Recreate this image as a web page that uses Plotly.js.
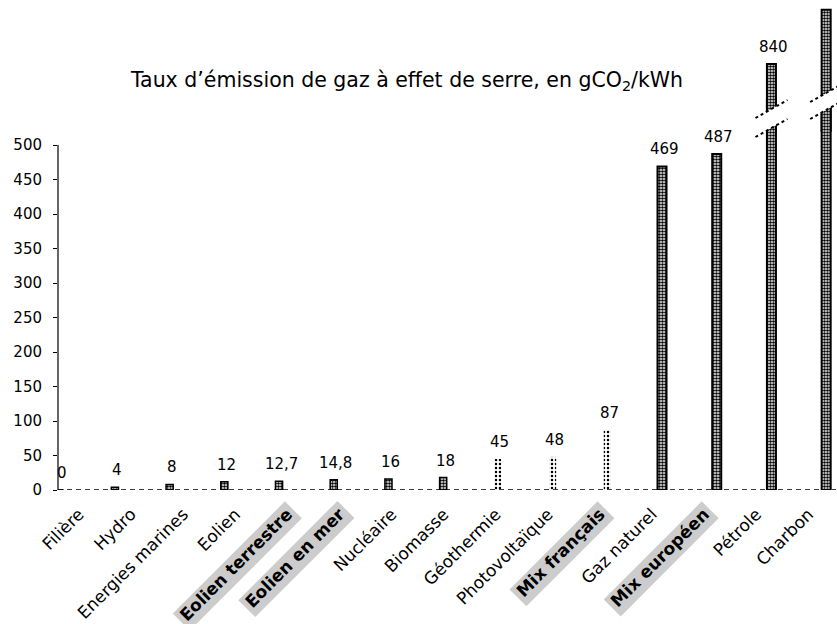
<!DOCTYPE html>
<html><head><meta charset="utf-8">
<script src="https://cdn.plot.ly/plotly-3.0.1.min.js"></script>
<style>html,body{margin:0;padding:0;background:#fff;}#chart{width:837px;height:624px;}</style>
</head><body><div id="chart"></div>
<script>
// ---- data ----
const categories = ['Filière','Hydro','Energies marines','Eolien','Eolien terrestre','Eolien en mer','Nucléaire','Biomasse','Géothermie','Photovoltaïque','Mix français','Gaz naturel','Mix européen','Pétrole','Charbon'];
const emissions = [0, 4, 8, 12, 12.7, 14.8, 16, 18, 45, 48, 87, 469, 487, 840, 1060];
const valueLabels = ['0','4','8','12','12,7','14,8','16','18','45','48','87','469','487','840',''];
const yTickValues = [0, 50, 100, 150, 200, 250, 300, 350, 400, 450, 500];
const highlighted = ['Eolien terrestre','Eolien en mer','Mix français','Mix européen'];
const lightBars = ['Géothermie','Photovoltaïque','Mix français'];
const brokenBars = ['Pétrole','Charbon'];

// ---- layout geometry ----
const W = 837, H = 624;
const M = {l: 58, r: 1, t: 2, b: 134};
const plotW = W - M.l - M.r, plotH = H - M.t - M.b;
const FONT = 'DejaVu Sans, sans-serif';
const xRange = [-0.04, 14.18];
const pxPerCat = plotW / (xRange[1] - xRange[0]);
const labelStep = 52.1, labelFirstPx = 79;              // label axis spacing (labels are a bit tighter than bars)
const labelRange = [-(labelFirstPx - M.l) / labelStep, -(labelFirstPx - M.l) / labelStep + plotW / labelStep];
const toPaperX = px => (px - M.l) / plotW;
const toPaperY = py => (H - M.b - py) / plotH;
const catPx = i => M.l + (i - xRange[0]) * pxPerCat;

const lowerTopPx = 98, upperBottomPx = 132;
const lowerScale = 0.69;   // px per gCO2/kWh on the lower axis
const lowerRange = [0, (H - M.b - lowerTopPx) / lowerScale];
const upperRange = [563, 1092];

// ---- traces ----
const idx = categories.map((c, i) => i);
const darkIdx = idx.filter(i => !lightBars.includes(categories[i]));
const lightIdx = idx.filter(i => lightBars.includes(categories[i]));
const brokenIdx = idx.filter(i => brokenBars.includes(categories[i]));
const barWidth = i => (emissions[i] > 100 ? 0.165 : 0.13);

const darkMarker = ids => ({
  color: '#fff',
  line: {color: '#000', width: ids.map(i => emissions[i] > 100 ? 2 : 1.5)},
  pattern: {shape: '.', fgcolor: '#000', bgcolor: '#fff', size: 3, solidity: 0.6, fillmode: 'replace'}
});

const traces = [
  {type: 'bar', x: darkIdx.map(i => categories[i]), y: darkIdx.map(i => emissions[i]),
   width: darkIdx.map(barWidth), marker: darkMarker(darkIdx), xaxis: 'x', yaxis: 'y', hoverinfo: 'skip'},
  {type: 'bar', x: lightIdx.map(i => categories[i]), y: lightIdx.map(i => emissions[i]),
   width: lightIdx.map(barWidth),
   marker: {color: 'rgba(0,0,0,0)', line: {width: 0},
            pattern: {shape: '.', fgcolor: '#000', bgcolor: 'rgba(0,0,0,0)', size: 4, solidity: 0.3, fillmode: 'replace'}},
   xaxis: 'x', yaxis: 'y', hoverinfo: 'skip'},
  {type: 'bar', x: brokenIdx.map(i => categories[i]), y: brokenIdx.map(i => emissions[i]),
   width: brokenIdx.map(barWidth), marker: darkMarker(brokenIdx), xaxis: 'x', yaxis: 'y2', hoverinfo: 'skip'},
  // invisible carrier for the category label axis
  {type: 'scatter', mode: 'markers', x: categories, y: categories.map(() => 0), marker: {opacity: 0, size: 1},
   xaxis: 'x2', yaxis: 'y', hoverinfo: 'skip'}
];

// ---- value labels ----
const annotations = idx.filter(i => valueLabels[i] !== '').map(i => ({
  x: categories[i], y: emissions[i],
  xref: 'x', yref: brokenBars.includes(categories[i]) ? 'y2' : 'y',
  text: valueLabels[i], showarrow: false, yanchor: 'bottom', yshift: 6, xshift: 2,
  font: {family: FONT, size: 15, color: '#000'}
}));

// ---- decorations: axis line, baseline, break marks ----
const shapes = [
  {type: 'line', xref: 'paper', yref: 'y', x0: 0, x1: 0, y0: 0, y1: 500, line: {color: '#000', width: 1.2}},
  {type: 'line', xref: 'paper', yref: 'y', x0: 0, x1: 1, y0: 0, y1: 0, line: {color: '#000', width: 1.5, dash: '5px,4px'}}
];
const breakCenters = {'Pétrole': [109, 128], 'Charbon': [93, 110]};
brokenIdx.forEach(i => {
  const xc = catPx(i);
  const [yU, yL] = breakCenters[categories[i]];
  const hw = 16, dy = 9;
  const P = (x, y) => toPaperX(x) + ',' + toPaperY(y);
  shapes.push({type: 'path', xref: 'paper', yref: 'paper', layer: 'above',
    path: 'M' + P(xc - hw, yU + dy) + 'L' + P(xc + hw, yU - dy) + 'L' + P(xc + hw, yL - dy) + 'L' + P(xc - hw, yL + dy) + 'Z',
    fillcolor: '#fff', line: {width: 0}});
  [yU, yL].forEach(yc => shapes.push({type: 'line', xref: 'paper', yref: 'paper', layer: 'above',
    x0: toPaperX(xc - hw), y0: toPaperY(yc + dy), x1: toPaperX(xc + hw), y1: toPaperY(yc - dy),
    line: {color: '#000', width: 2, dash: 'dot'}}));
});

const layout = {
  width: W, height: H, margin: M,
  paper_bgcolor: '#fff', plot_bgcolor: 'rgba(0,0,0,0)',
  showlegend: false, barmode: 'overlay',
  font: {family: FONT, color: '#000'},
  title: {text: 'Taux d’émission de gaz à effet de serre, en gCO<sub>2</sub>/kWh',
          x: 407 / W, xanchor: 'center', y: 1 - 80 / H, yanchor: 'middle', yref: 'container',
          font: {family: FONT, size: 20.5, color: '#000'}},
  xaxis: {type: 'category', categoryorder: 'array', categoryarray: categories,
          range: xRange, showticklabels: false, ticks: '', showgrid: false, zeroline: false, showline: false},
  xaxis2: {type: 'category', categoryorder: 'array', categoryarray: categories, overlaying: 'x', anchor: 'y', side: 'bottom',
           range: labelRange, tickangle: -45, ticks: '', ticklabelstandoff: 10,
           showgrid: false, zeroline: false, showline: false,
           tickvals: categories, ticktext: categories.map(c => highlighted.includes(c) ? '<b>' + c + '</b>' : c),
           tickfont: {family: FONT, size: 17, color: '#000'}},
  yaxis: {domain: [0, toPaperY(lowerTopPx)], range: lowerRange, tickvals: yTickValues, ticks: 'outside', ticklen: 4,
          tickcolor: '#000', ticklabelstandoff: 8, showgrid: false, zeroline: false, showline: false,
          tickfont: {family: FONT, size: 15, color: '#000'}},
  yaxis2: {domain: [toPaperY(upperBottomPx), 1], range: upperRange, anchor: 'x', showticklabels: false, ticks: '',
           showgrid: false, zeroline: false, showline: false},
  annotations: annotations,
  shapes: shapes
};

const gd = document.getElementById('chart');
Plotly.newPlot(gd, traces, layout, {staticPlot: true, displayModeBar: false}).then(() => {
  const extra = [];
  gd.querySelectorAll('.x2tick text, .xtick text').forEach(t => {
    const name = t.textContent;
    if (!highlighted.includes(name)) return;
    const bb = t.getBBox();
    if (!bb.width) return;
    const m = t.getCTM();
    const svg = t.ownerSVGElement;
    const pad = 4;
    const corners = [[bb.x - pad, bb.y], [bb.x + bb.width + pad, bb.y], [bb.x + bb.width + pad, bb.y + bb.height + pad], [bb.x - pad, bb.y + bb.height + pad]]
      .map(([x, y]) => { const p = svg.createSVGPoint(); p.x = x; p.y = y; const q = p.matrixTransform(m); return [q.x, q.y]; });
    extra.push({type: 'path', xref: 'paper', yref: 'paper', layer: 'below',
      path: 'M' + corners.map(c => toPaperX(c[0]) + ',' + toPaperY(c[1])).join('L') + 'Z',
      fillcolor: 'rgba(0,0,0,0.2)', line: {width: 0}});
  });
  return Plotly.relayout(gd, {shapes: shapes.concat(extra)});
});
</script>
</body></html>
